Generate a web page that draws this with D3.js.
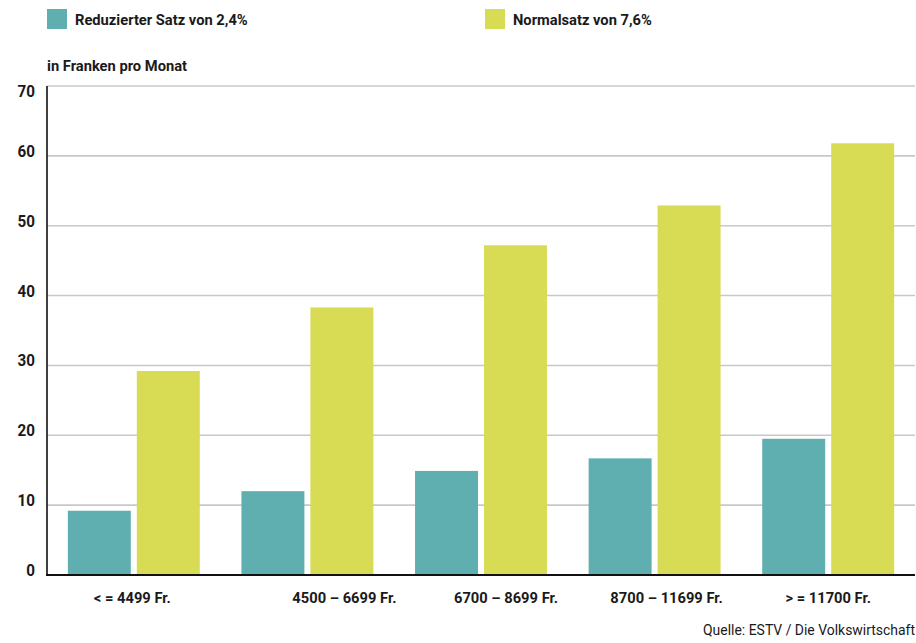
<!DOCTYPE html>
<html>
<head>
<meta charset="utf-8">
<script src="https://cdn.jsdelivr.net/npm/d3@7"></script>
<style>
  html, body { margin: 0; padding: 0; background: #fff; }
  svg { display: block; }
  text { font-family: Roboto, "Noto Sans", "DejaVu Sans", sans-serif; fill: #1a1a1a; }
</style>
</head>
<body>
<svg id="chart" width="916" height="643"></svg>
<script>
// Income brackets (monthly household income)
const categories = ["< = 4499 Fr.", "4500 – 6699 Fr.", "6700 – 8699 Fr.", "8700 – 11699 Fr.", "> = 11700 Fr."];
// Series names
const seriesNames = ["Reduzierter Satz von 2,4%", "Normalsatz von 7,6%"];
// Monthly burden in francs
const reducedRate = [9.2, 12.0, 14.9, 16.7, 19.5];
const normalRate = [29.2, 38.3, 47.2, 52.9, 61.8];
// Y axis ticks
const yTicks = [0, 10, 20, 30, 40, 50, 60, 70];

const colors = ["#60afb0", "#d8db54"];

const svg = d3.select("#chart");
const plotLeft = 47, plotRight = 915, plotTop = 86, plotBottom = 575;

const y = d3.scaleLinear().domain([0, 70]).range([plotBottom, plotTop]);
const x0 = d3.scaleBand().domain(categories).range([plotLeft, plotRight])
  .paddingInner(0.24).paddingOuter(0.12);
const x1 = d3.scaleBand().domain(seriesNames).range([0, x0.bandwidth()])
  .paddingInner(6 / 69);

// place a text label at (px, py), squeezed horizontally by sx
function at(px, py, sx = 0.98) {
  return `translate(${px},${py}) scale(${sx},1)`;
}

// Gridlines
svg.append("g")
  .selectAll("line")
  .data(yTicks.filter(t => t > 0))
  .join("line")
  .attr("x1", plotLeft).attr("x2", plotRight)
  .attr("y1", d => y(d)).attr("y2", d => y(d))
  .attr("stroke", "#c8c8c8").attr("stroke-width", 1.6);

// Y tick labels (kept inside the plot area at the top)
svg.append("g")
  .selectAll("text")
  .data(yTicks)
  .join("text")
  .attr("transform", d => at(35, Math.max(y(d) + 1, plotTop + 11), 0.95))
  .attr("text-anchor", "end")
  .attr("font-size", 16).attr("font-weight", "bold")
  .text(d => d);

// Bars
const rows = categories.map((c, i) => ({ cat: c, values: [reducedRate[i], normalRate[i]] }));
svg.append("g")
  .selectAll("g")
  .data(rows)
  .join("g")
  .attr("transform", d => `translate(${x0(d.cat)},0)`)
  .selectAll("rect")
  .data(d => d.values.map((v, j) => ({ name: seriesNames[j], v, j })))
  .join("rect")
  .attr("x", d => x1(d.name))
  .attr("width", x1.bandwidth())
  .attr("y", d => y(d.v))
  .attr("height", d => y(0) - y(d.v))
  .attr("fill", d => colors[d.j]);

// Axes lines
svg.append("line")
  .attr("x1", plotLeft).attr("x2", plotLeft).attr("y1", plotTop).attr("y2", plotBottom)
  .attr("stroke", "#111").attr("stroke-width", 1.6);
svg.append("line")
  .attr("x1", plotLeft - 1).attr("x2", plotRight).attr("y1", plotBottom).attr("y2", plotBottom)
  .attr("stroke", "#111").attr("stroke-width", 2);

// Category labels (slightly shifted from band centres as typeset)
const labelShift = [-1.5, 37, 25, 12, 0];
svg.append("g")
  .selectAll("text")
  .data(categories)
  .join("text")
  .attr("transform", (d, i) => at(x0(d) + x0.bandwidth() / 2 + labelShift[i], 603))
  .attr("text-anchor", "middle")
  .attr("font-size", 15).attr("font-weight", "bold")
  .text(d => d);

// Unit label
svg.append("text")
  .attr("transform", at(47, 71))
  .attr("font-size", 15).attr("font-weight", "bold")
  .text("in Franken pro Monat");

// Legend
const legendX = [47, 485];
const legend = svg.append("g")
  .selectAll("g")
  .data(seriesNames)
  .join("g")
  .attr("transform", (d, i) => `translate(${legendX[i]},9)`);
legend.append("rect").attr("width", 20).attr("height", 20).attr("fill", (d, i) => colors[i]);
legend.append("text")
  .attr("transform", at(28, 16))
  .attr("font-size", 15).attr("font-weight", "bold")
  .text(d => d);

// Source
svg.append("text")
  .attr("transform", at(915, 635, 0.93))
  .attr("text-anchor", "end")
  .attr("font-size", 15)
  .text("Quelle: ESTV / Die Volkswirtschaft");
</script>
</body>
</html>
